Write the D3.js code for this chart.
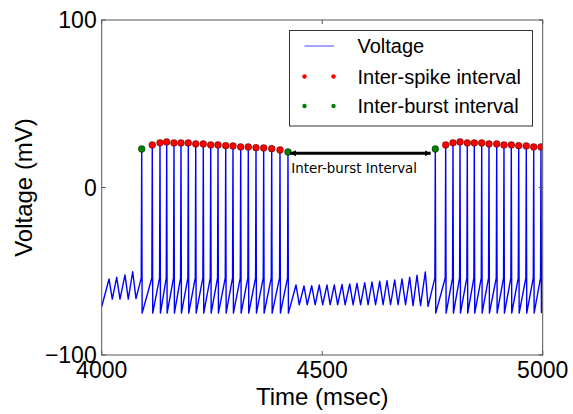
<!DOCTYPE html>
<html>
<head>
<meta charset="utf-8">
<script src="https://cdn.jsdelivr.net/npm/d3@7"></script>
<style>
body { margin: 0; background: #fff; }
text { font-family: "Liberation Sans", Arial, sans-serif; fill: #000; }
</style>
</head>
<body>
<div class="chart"></div>
<script>
// spike times (msec) and spike peak voltages (mV)
var burst1Times = [4090.7, 4114.7, 4132.2, 4147.4, 4163.9, 4179.8, 4196.4, 4213.2, 4230.4, 4247.2,
  4263.7, 4281.2, 4297.7, 4315.2, 4332.4, 4349.9, 4367.3, 4385.5, 4404.3, 4422.4];
var burst1Peaks = [23.0, 25.4, 26.7, 27.2, 26.6, 26.6, 26.6, 26.0, 26.0, 25.4,
  25.4, 25.0, 24.8, 24.2, 24.2, 23.8, 23.6, 23.2, 22.4, 21.2];
var burst2Times = [4756.5, 4780.0, 4796.6, 4812.5, 4829.0, 4844.9, 4861.7, 4878.2, 4895.7, 4912.2,
  4928.8, 4945.6, 4962.8, 4979.6, 4996.1];
var burst2Peaks = [23.0, 25.4, 26.7, 27.2, 26.6, 26.6, 26.6, 26.0, 26.0, 25.4,
  25.4, 25.0, 24.8, 24.2, 24.2];
var spikeThreshold = -54;
var spikeTrough = -75;

// subthreshold oscillation before the first burst and between the bursts [msec, mV]
var preBurstTrace = [[4000, -71.2], [4016.6, -54.6], [4024.0, -66.6], [4034.0, -53.6], [4041.5, -66.6],
  [4052.8, -52.2], [4060.3, -66.6], [4070.3, -50.3], [4077.8, -66.3]];
var interBurstTrace = [[4440.6, -58.2], [4448, -70], [4458.7, -58.8], [4466, -70], [4476.2, -58.6], [4484, -70],
  [4493.4, -58.2], [4501, -70], [4510.9, -58.2], [4518, -70], [4527.4, -58.2], [4535, -70],
  [4544.9, -57.8], [4552, -70], [4562.4, -57.6], [4570, -70], [4578.9, -57.2], [4587, -70],
  [4596.4, -56.8], [4604, -70], [4612.9, -56.4], [4621, -70], [4630.4, -56.0], [4638, -70],
  [4646.9, -55.6], [4655, -70], [4664.4, -55.2], [4672, -70], [4681.0, -54.6], [4689, -70],
  [4698.4, -53.6], [4706, -70.5], [4715.0, -52.4], [4723, -70.5], [4733.8, -50.4], [4740, -71]];

var xTicks = [4000, 4500, 5000];
var yTicks = [-100, 0, 100];
var legendLabels = ["Voltage", "Inter-spike interval", "Inter-burst interval"];
var arrowFrom = [4427, 20.4];
var arrowTo = [4746, 20.4];
var noteText = "Inter-burst Interval";
var notePos = [4430, 8.8];

var svgWidth = 573;
var svgHeight = 414;
var margin = { top: 20, right: 30.3, bottom: 59, left: 101.7 };
var width = svgWidth - margin.left - margin.right;
var height = svgHeight - margin.top - margin.bottom;

var svg = d3.select(".chart")
  .append("svg")
  .attr("width", svgWidth)
  .attr("height", svgHeight);

var chartGroup = svg.append("g")
  .attr("transform", `translate(${margin.left}, ${margin.top})`);

var x = d3.scaleLinear().domain([4000, 5000]).range([0, width]);
var y = d3.scaleLinear().domain([-100, 100]).range([height, 0]);

svg.append("defs").append("clipPath").attr("id", "plotclip")
  .append("rect").attr("width", width).attr("height", height);

// build the voltage trace
function spikeVerts(times, peaks) {
  var out = [];
  times.forEach(function(t, i) {
    out.push([t - 1, spikeThreshold]);
    out.push([t, peaks[i]]);
    out.push([t + 1, spikeTrough]);
  });
  return out;
}
var trace = preBurstTrace
  .concat(spikeVerts(burst1Times, burst1Peaks))
  .concat(interBurstTrace)
  .concat(spikeVerts(burst2Times, burst2Peaks));

var plot = chartGroup.append("g").attr("clip-path", "url(#plotclip)");

plot.append("path")
  .datum(trace)
  .attr("fill", "none")
  .attr("stroke", "#0000ff")
  .attr("stroke-width", 1.4)
  .attr("stroke-linejoin", "round")
  .attr("d", d3.line().x(d => x(d[0])).y(d => y(d[1])));

var isiDots = [];
var ibiDots = [];
burst1Times.forEach(function(t, i) {
  if (i == 0 || i == burst1Times.length - 1) ibiDots.push([t, burst1Peaks[i]]);
  else isiDots.push([t, burst1Peaks[i]]);
});
burst2Times.forEach(function(t, i) {
  if (i == 0) ibiDots.push([t, burst2Peaks[i]]);
  else isiDots.push([t, burst2Peaks[i]]);
});

plot.selectAll(".isi")
  .data(isiDots)
  .enter()
  .append("circle")
  .attr("cx", d => x(d[0]))
  .attr("cy", d => y(d[1]))
  .attr("r", 3.4)
  .attr("fill", "#ff0000")
  .attr("stroke", "#000")
  .attr("stroke-width", 0.4);

plot.selectAll(".ibi")
  .data(ibiDots)
  .enter()
  .append("circle")
  .attr("cx", d => x(d[0]))
  .attr("cy", d => y(d[1]))
  .attr("r", 3.4)
  .attr("fill", "#008000")
  .attr("stroke", "#000")
  .attr("stroke-width", 0.4);

// annotation arrow
var defs = svg.select("defs");
defs.append("marker").attr("id", "head")
  .attr("viewBox", "0 0 10 10").attr("refX", 10).attr("refY", 5)
  .attr("markerUnits", "userSpaceOnUse")
  .attr("markerWidth", 6).attr("markerHeight", 6)
  .attr("orient", "auto-start-reverse")
  .append("path").attr("d", "M0,0L10,5L0,10z").attr("fill", "#000");

chartGroup.append("line")
  .attr("x1", x(arrowFrom[0])).attr("y1", y(arrowFrom[1]))
  .attr("x2", x(arrowTo[0])).attr("y2", y(arrowTo[1]))
  .attr("stroke", "#000")
  .attr("stroke-width", 3)
  .attr("marker-start", "url(#head)")
  .attr("marker-end", "url(#head)");

chartGroup.append("text")
  .attr("x", x(notePos[0]))
  .attr("y", y(notePos[1]))
  .style("font-family", "'DejaVu Sans', sans-serif")
  .style("font-size", "13.4px")
  .text(noteText);

// frame and inward ticks
chartGroup.append("rect")
  .attr("width", width).attr("height", height)
  .attr("fill", "none").attr("stroke", "#555").attr("stroke-width", 1);

var tickColor = "#555";
chartGroup.selectAll(".xtb").data(xTicks).enter().append("line")
  .attr("x1", d => x(d)).attr("x2", d => x(d))
  .attr("y1", height).attr("y2", height - 4).attr("stroke", tickColor);
chartGroup.selectAll(".xtt").data(xTicks).enter().append("line")
  .attr("x1", d => x(d)).attr("x2", d => x(d))
  .attr("y1", 0).attr("y2", 4).attr("stroke", tickColor);
chartGroup.selectAll(".ytl").data(yTicks).enter().append("line")
  .attr("y1", d => y(d)).attr("y2", d => y(d))
  .attr("x1", 0).attr("x2", 4).attr("stroke", tickColor);
chartGroup.selectAll(".ytr").data(yTicks).enter().append("line")
  .attr("y1", d => y(d)).attr("y2", d => y(d))
  .attr("x1", width).attr("x2", width - 4).attr("stroke", tickColor);

var fmt = d3.format("d");
chartGroup.selectAll(".xlab").data(xTicks).enter().append("text")
  .attr("x", d => x(d))
  .attr("y", height + 23)
  .attr("text-anchor", "middle")
  .style("font-size", "23px")
  .text(d => fmt(d));

chartGroup.selectAll(".ylab").data(yTicks).enter().append("text")
  .attr("x", -5)
  .attr("y", d => y(d))
  .attr("dy", "0.36em")
  .attr("text-anchor", "end")
  .style("font-size", "23px")
  .text(d => fmt(d));

chartGroup.append("text")
  .attr("transform", `translate(${width / 2}, ${height + 50})`)
  .attr("text-anchor", "middle")
  .style("font-size", "24px")
  .text("Time (msec)");

chartGroup.append("text")
  .attr("transform", `translate(${32 - margin.left}, ${height / 2}) rotate(-90)`)
  .attr("text-anchor", "middle")
  .style("font-size", "24px")
  .text("Voltage (mV)");

// legend
var legend = svg.append("g").attr("transform", "translate(289.5, 30.5)");
legend.append("rect")
  .attr("width", 243).attr("height", 95.5)
  .attr("fill", "#fff").attr("stroke", "#333").attr("stroke-width", 1);

var rowY = [15.5, 46, 75.5];
legend.append("line")
  .attr("x1", 15).attr("x2", 44.5)
  .attr("y1", rowY[0]).attr("y2", rowY[0])
  .attr("stroke", "#0000ff").attr("stroke-opacity", 0.6).attr("stroke-width", 1.2);
[["#ff0000", rowY[1]], ["#008000", rowY[2]]].forEach(function(m) {
  legend.selectAll(null).data([15, 44]).enter().append("circle")
    .attr("cx", d => d).attr("cy", m[1]).attr("r", 2.2)
    .attr("fill", m[0]);
});
legend.selectAll(".ltext").data(legendLabels).enter().append("text")
  .attr("x", 68)
  .attr("y", (d, i) => rowY[i] + 7)
  .style("font-size", "20px")
  .text(d => d);
</script>
</body>
</html>
